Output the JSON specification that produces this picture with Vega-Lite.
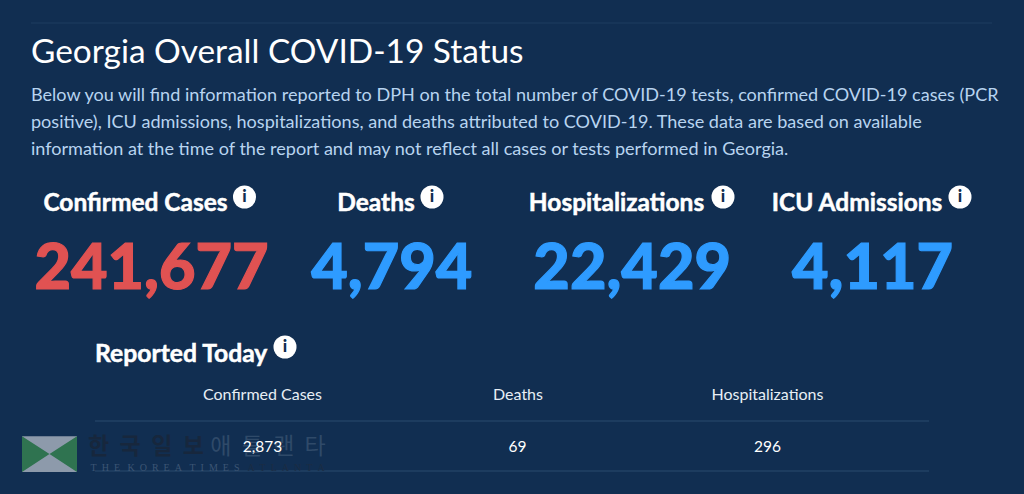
{
  "$schema": "https://vega.github.io/schema/vega-lite/v6.json",
  "description": "Georgia Overall COVID-19 Status",
  "width": 1024,
  "height": 494,
  "padding": 0,
  "autosize": {"type": "fit", "contains": "padding"},
  "background": "#112e51",
  "config": {"view": {"stroke": null}, "text": {"font": "Lato"}},
  "datasets": {
    "metrics": [
      {"metric": "Confirmed Cases", "slot": 1, "total": 241677, "today": 2873},
      {"metric": "Deaths", "slot": 2, "total": 4794, "today": 69},
      {"metric": "Hospitalizations", "slot": 3, "total": 22429, "today": 296},
      {"metric": "ICU Admissions", "slot": 4, "total": 4117, "today": null}
    ],
    "icons": [
      {"slot": 1, "section": "Overall", "glyph": "i"},
      {"slot": 2, "section": "Overall", "glyph": "i"},
      {"slot": 3, "section": "Overall", "glyph": "i"},
      {"slot": 4, "section": "Overall", "glyph": "i"},
      {"slot": 5, "section": "Today", "glyph": "i"}
    ],
    "copy": [
      {"line": 1, "text": "Below you will find information reported to DPH on the total number of COVID-19 tests, confirmed COVID-19 cases (PCR"},
      {"line": 2, "text": "positive), ICU admissions, hospitalizations, and deaths attributed to COVID-19. These data are based on available"},
      {"line": 3, "text": "information at the time of the report and may not reflect all cases or tests performed in Georgia."}
    ],
    "rules": [
      {"rule": "top", "end": "left"},
      {"rule": "top", "end": "right"}
    ],
    "tableRules": [
      {"rule": "header", "end": "left"},
      {"rule": "header", "end": "right"},
      {"rule": "bottom", "end": "left"},
      {"rule": "bottom", "end": "right"}
    ],
    "labels": [
      {"label": "Georgia Overall COVID-19 Status"},
      {"label": "Reported Today"}
    ]
  },
  "resolve": {"scale": {"x": "independent", "y": "independent", "color": "independent"}},
  "layer": [
    {
      "data": {"name": "rules"},
      "mark": {"type": "line", "color": "#1f3d60", "strokeWidth": 1},
      "encoding": {
        "x": {"field": "end", "type": "nominal", "axis": null, "scale": {"type": "point", "padding": 0, "domain": ["left", "right"], "range": [31, 992]}},
        "y": {"field": "rule", "type": "nominal", "axis": null, "scale": {"type": "point", "padding": 0, "range": [23, 23]}}
      }
    },
    {
      "data": {"name": "tableRules"},
      "mark": {"type": "line", "color": "#2b4a6e", "strokeWidth": 1},
      "encoding": {
        "x": {"field": "end", "type": "nominal", "axis": null, "scale": {"type": "point", "padding": 0, "domain": ["left", "right"], "range": [95, 929]}},
        "y": {"field": "rule", "type": "nominal", "axis": null, "scale": {"type": "point", "padding": 0, "domain": ["header", "bottom"], "range": [421, 471]}},
        "detail": {"field": "rule"}
      }
    },
    {
      "data": {"name": "labels"},
      "transform": [{"filter": "datum.label == 'Georgia Overall COVID-19 Status'"}],
      "mark": {"type": "text", "align": "left", "baseline": "middle", "fontSize": 33.4, "color": "#ffffff"},
      "encoding": {
        "text": {"field": "label"},
        "x": {"field": "label", "type": "nominal", "axis": null, "scale": {"type": "point", "padding": 0, "range": [31, 31]}},
        "y": {"field": "label", "type": "nominal", "axis": null, "scale": {"type": "point", "padding": 0, "range": [53, 53]}}
      }
    },
    {
      "data": {"name": "copy"},
      "mark": {"type": "text", "align": "left", "baseline": "middle", "fontSize": 18.07, "color": "#b8d4f0"},
      "encoding": {
        "text": {"field": "text"},
        "x": {"datum": "copy", "type": "nominal", "axis": null, "scale": {"type": "point", "padding": 0, "range": [31, 31]}},
        "y": {"field": "line", "type": "quantitative", "axis": null, "scale": {"domain": [1, 3], "range": [96, 150], "zero": false, "nice": false}}
      }
    },
    {
      "data": {"name": "metrics"},
      "mark": {"type": "text", "fontSize": 24.5, "fontWeight": 700, "baseline": "middle", "color": "#ffffff", "stroke": "#ffffff", "strokeWidth": 0.5},
      "encoding": {
        "text": {"field": "metric"},
        "x": {"field": "metric", "type": "nominal", "sort": null, "axis": null, "scale": {"type": "point", "padding": 0, "range": [135.5, 857]}},
        "y": {"datum": "head", "type": "nominal", "axis": null, "scale": {"type": "point", "padding": 0, "range": [204, 204]}}
      }
    },
    {
      "data": {"name": "metrics"},
      "mark": {"type": "text", "fontSize": 63, "fontWeight": 900, "baseline": "middle", "strokeWidth": 1.2},
      "encoding": {
        "text": {"field": "total", "format": ",d"},
        "x": {"field": "metric", "type": "nominal", "sort": null, "axis": null, "scale": {"type": "point", "padding": 0, "range": [151.5, 872.5]}},
        "y": {"datum": "big", "type": "nominal", "axis": null, "scale": {"type": "point", "padding": 0, "range": [270, 270]}},
        "fill": {
          "field": "metric",
          "type": "nominal",
          "legend": null,
          "scale": {"domain": ["Confirmed Cases", "Deaths", "Hospitalizations", "ICU Admissions"], "range": ["#e05252", "#2e9bff", "#2e9bff", "#2e9bff"]}
        },
        "stroke": {
          "field": "metric",
          "type": "nominal",
          "legend": null,
          "scale": {"domain": ["Confirmed Cases", "Deaths", "Hospitalizations", "ICU Admissions"], "range": ["#e05252", "#2e9bff", "#2e9bff", "#2e9bff"]}
        }
      }
    },
    {
      "data": {"name": "labels"},
      "transform": [{"filter": "datum.label == 'Reported Today'"}],
      "mark": {"type": "text", "align": "left", "baseline": "middle", "fontSize": 24.7, "fontWeight": 700, "color": "#ffffff", "stroke": "#ffffff", "strokeWidth": 0.5},
      "encoding": {
        "text": {"field": "label"},
        "x": {"field": "label", "type": "nominal", "axis": null, "scale": {"type": "point", "padding": 0, "range": [95, 95]}},
        "y": {"field": "label", "type": "nominal", "axis": null, "scale": {"type": "point", "padding": 0, "range": [355, 355]}}
      }
    },
    {
      "data": {"name": "icons"},
      "mark": {"type": "point", "filled": true, "opacity": 1, "size": 530, "color": "#ffffff"},
      "encoding": {
        "x": {"field": "slot", "type": "quantitative", "axis": null, "scale": {"domain": [1, 2, 3, 4, 5], "range": [244.5, 432, 723, 960, 285], "zero": false, "nice": false}},
        "y": {"field": "section", "type": "nominal", "axis": null, "scale": {"type": "point", "padding": 0, "domain": ["Overall", "Today"], "range": [197, 347]}}
      }
    },
    {
      "data": {"name": "icons"},
      "mark": {"type": "text", "fontSize": 17, "fontWeight": 900, "baseline": "middle", "color": "#112e51"},
      "encoding": {
        "text": {"field": "glyph"},
        "x": {"field": "slot", "type": "quantitative", "axis": null, "scale": {"domain": [1, 2, 3, 4, 5], "range": [244.5, 432, 723, 960, 285], "zero": false, "nice": false}},
        "y": {"field": "section", "type": "nominal", "axis": null, "scale": {"type": "point", "padding": 0, "domain": ["Overall", "Today"], "range": [197, 347]}}
      }
    },
    {
      "data": {"name": "labels"},
      "transform": [{"filter": "datum.label == 'Reported Today'"}],
      "mark": {"type": "point", "filled": true, "opacity": 0.85, "size": 3025, "color": "#a3adbb", "shape": "M-1,-0.65H1V0.65H-1Z"},
      "encoding": {
        "x": {"datum": "logo", "type": "nominal", "axis": null, "scale": {"type": "point", "padding": 0, "range": [49.5, 49.5]}},
        "y": {"datum": "logo", "type": "nominal", "axis": null, "scale": {"type": "point", "padding": 0, "range": [454, 454]}}
      }
    },
    {
      "data": {"name": "labels"},
      "transform": [{"filter": "datum.label == 'Reported Today'"}],
      "mark": {"type": "point", "filled": true, "opacity": 1, "size": 3025, "color": "#2f7350", "shape": "M-1,-0.65L0,0L-1,0.65ZM1,-0.65L0,0L1,0.65Z"},
      "encoding": {
        "x": {"datum": "logo", "type": "nominal", "axis": null, "scale": {"type": "point", "padding": 0, "range": [49.5, 49.5]}},
        "y": {"datum": "logo", "type": "nominal", "axis": null, "scale": {"type": "point", "padding": 0, "range": [454, 454]}}
      }
    },
    {
      "data": {"values": [{"mark": "한\u00a0\u00a0국\u00a0\u00a0일\u00a0\u00a0보"}]},
      "mark": {"type": "text", "align": "center", "baseline": "middle", "fontSize": 23, "fontWeight": 700, "font": "Noto Sans CJK KR", "color": "#17273d"},
      "encoding": {
        "text": {"field": "mark"},
        "x": {"field": "mark", "type": "nominal", "axis": null, "scale": {"type": "point", "padding": 0, "range": [146, 146]}},
        "y": {"datum": "wm", "type": "nominal", "axis": null, "scale": {"type": "point", "padding": 0, "range": [447, 447]}}
      }
    },
    {
      "data": {"values": [{"mark": "애\u00a0\u00a0틀\u00a0\u00a0랜\u00a0\u00a0타"}]},
      "mark": {"type": "text", "align": "center", "baseline": "middle", "fontSize": 23, "fontWeight": 400, "font": "Noto Sans CJK KR", "color": "#2f4a69"},
      "encoding": {
        "text": {"field": "mark"},
        "x": {"field": "mark", "type": "nominal", "axis": null, "scale": {"type": "point", "padding": 0, "range": [268, 268]}},
        "y": {"datum": "wm", "type": "nominal", "axis": null, "scale": {"type": "point", "padding": 0, "range": [447, 447]}}
      }
    },
    {
      "data": {"values": [{"mark": "T\u00a0\u00a0H\u00a0\u00a0E\u00a0\u00a0\u00a0K\u00a0\u00a0O\u00a0\u00a0R\u00a0\u00a0E\u00a0\u00a0A\u00a0\u00a0\u00a0T\u00a0\u00a0I\u00a0\u00a0M\u00a0\u00a0E\u00a0\u00a0S", "tint": "light"}, {"mark": "A\u00a0\u00a0T\u00a0\u00a0L\u00a0\u00a0A\u00a0\u00a0N\u00a0\u00a0T\u00a0\u00a0A", "tint": "dark"}]},
      "mark": {"type": "text", "align": "center", "baseline": "middle", "fontSize": 10, "font": "Liberation Serif"},
      "encoding": {
        "text": {"field": "mark"},
        "x": {"field": "tint", "type": "nominal", "axis": null, "scale": {"type": "point", "padding": 0, "domain": ["light", "dark"], "range": [165, 286]}},
        "y": {"datum": "wm", "type": "nominal", "axis": null, "scale": {"type": "point", "padding": 0, "range": [468, 468]}},
        "color": {"field": "tint", "type": "nominal", "legend": null, "scale": {"domain": ["light", "dark"], "range": ["#3c5574", "#1b2c43"]}}
      }
    },
    {
      "data": {"name": "metrics"},
      "transform": [{"filter": "datum.today != null"}],
      "mark": {"type": "text", "fontSize": 16, "baseline": "middle", "color": "#e8eef5"},
      "encoding": {
        "text": {"field": "metric"},
        "x": {"field": "slot", "type": "quantitative", "axis": null, "scale": {"domain": [1, 2, 3], "range": [262.5, 518, 767.5], "zero": false, "nice": false}},
        "y": {"datum": "th", "type": "nominal", "axis": null, "scale": {"type": "point", "padding": 0, "range": [395, 395]}}
      }
    },
    {
      "data": {"name": "metrics"},
      "transform": [{"filter": "datum.today != null"}],
      "mark": {"type": "text", "fontSize": 15.5, "baseline": "middle", "color": "#ffffff"},
      "encoding": {
        "text": {"field": "today", "format": ",d"},
        "x": {"field": "slot", "type": "quantitative", "axis": null, "scale": {"domain": [1, 2, 3], "range": [262.5, 517.5, 767.5], "zero": false, "nice": false}},
        "y": {"datum": "td", "type": "nominal", "axis": null, "scale": {"type": "point", "padding": 0, "range": [447, 447]}}
      }
    }
  ]
}
